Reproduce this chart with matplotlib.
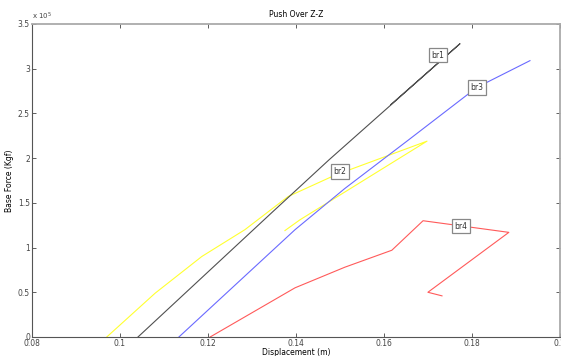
import matplotlib
matplotlib.use("Agg")
import matplotlib.pyplot as plt
from matplotlib.ticker import FuncFormatter

# displacement (m) and base force (x 1e5 Kgf) per branch
br1_disp = [0.1041, 0.1345, 0.1475, 0.1773, 0.1616]
br1_force = [0.0, 1.39, 1.98, 3.28, 2.60]

br2_disp = [0.0970, 0.1080, 0.1186, 0.1284, 0.1382, 0.1489, 0.1698, 0.1409, 0.1375]
br2_force = [0.0, 0.49, 0.90, 1.20, 1.57, 1.81, 2.19, 1.31, 1.19]

br3_disp = [0.1134, 0.1398, 0.1511, 0.1655, 0.1811, 0.1932]
br3_force = [0.0, 1.20, 1.66, 2.20, 2.79, 3.09]

br4_disp = [0.1205, 0.1398, 0.1511, 0.1618, 0.1689, 0.1884, 0.1700, 0.1732]
br4_force = [0.0, 0.55, 0.78, 0.97, 1.30, 1.17, 0.50, 0.46]

labels = ["br1", "br2", "br3", "br4"]
label_pos = [(0.1723, 3.15), (0.1500, 1.85), (0.1811, 2.79), (0.1775, 1.24)]

fig = plt.figure(figsize=(5.61, 3.56), dpi=100)
ax = fig.add_axes([0.057, 0.0534, 0.941, 0.8792])

ax.plot(br2_disp, br2_force, color="#ffff30", lw=0.8)
ax.plot(br1_disp, br1_force, color="#505050", lw=0.8)
ax.plot(br3_disp, br3_force, color="#6a6aff", lw=0.8)
ax.plot(br4_disp, br4_force, color="#ff5a5a", lw=0.8)

for lab, (x, y) in zip(labels, label_pos):
    ax.text(x, y, lab, fontsize=5.5, ha="center", va="center", color="#333333",
            bbox=dict(boxstyle="square,pad=0.35", fc="white", ec="#888888", lw=0.9))

ax.set_xlim(0.08, 0.2)
ax.set_ylim(0, 3.5)
ax.set_xticks([0.08, 0.1, 0.12, 0.14, 0.16, 0.18, 0.2])
ax.set_yticks([0, 0.5, 1, 1.5, 2, 2.5, 3, 3.5])
ax.xaxis.set_major_formatter(FuncFormatter(lambda v, p: "%g" % v))
ax.yaxis.set_major_formatter(FuncFormatter(lambda v, p: "%g" % v))
ax.tick_params(direction="in", length=3, width=0.6, labelsize=5.5, pad=1.5,
               top=True, right=True, colors="#444444")

for side in ["left", "bottom"]:
    ax.spines[side].set_color("#555555")
    ax.spines[side].set_linewidth(0.8)
for side in ["top", "right"]:
    ax.spines[side].set_color("#aaaaaa")
    ax.spines[side].set_linewidth(1.3)

ax.set_title("Push Over Z-Z", fontsize=5.5, pad=5)
ax.set_xlabel("Displacement (m)", fontsize=5.5, labelpad=0)
ax.set_ylabel("Base Force (Kgf)", fontsize=5.5, labelpad=3)
ax.text(0.0, 1.005, "x 10$^5$", transform=ax.transAxes, fontsize=5, va="bottom",
        ha="left", color="#444444")

fig.savefig("out.png", dpi=100)
